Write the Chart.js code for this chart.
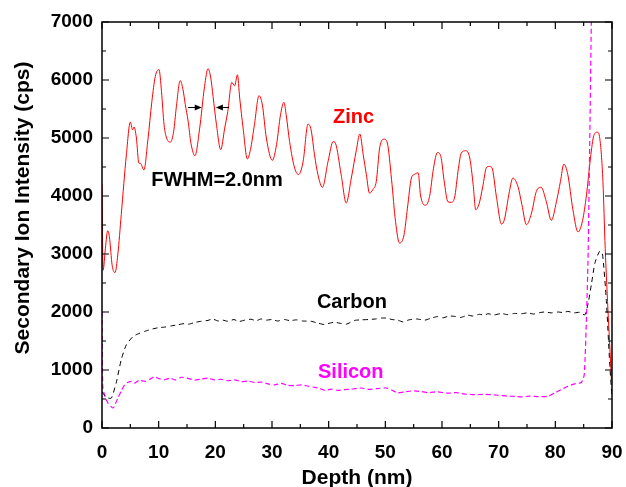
<!DOCTYPE html>
<html>
<head>
<meta charset="utf-8">
<script src="https://cdn.jsdelivr.net/npm/chart.js@4.4.0/dist/chart.umd.min.js"></script>
<style>
  html, body { margin: 0; padding: 0; background: #fff; }
  canvas { display: block; }
</style>
</head>
<body>
<canvas id="sims" width="626" height="487"></canvas>
<script>
// depth profile (depth in nm, intensity in cps)
var zincDepth = [0, 0.2, 0.6, 1.0, 1.3, 1.8, 2.3, 2.8, 3.4, 4.3, 5.0, 5.4, 5.65, 6.07, 6.5, 6.8, 7.4, 8.1, 8.8, 9.4,
  10.06, 10.5, 10.95, 11.4, 12.1, 12.65, 13.1, 13.8, 14.3, 14.7, 15.2, 15.7, 16.4, 17.2, 18.1, 18.7, 19.2, 19.6,
  20.2, 20.95, 21.65, 22.2, 22.9, 23.4, 23.9, 24.3, 24.9, 25.65, 26.2, 26.9, 27.7, 28.3, 29.0, 30.07, 30.8, 31.5,
  32.1, 32.5, 33.1, 34.0, 34.7, 35.5, 36.35, 36.9, 37.5, 38.1, 38.9, 39.9, 40.8, 41.2, 42.2, 43.1, 44.0, 44.9,
  45.5, 46.1, 46.65, 47.2, 47.8, 48.4, 49.0, 49.8, 50.35, 51.1, 51.8, 52.5, 53.3, 53.9, 54.6, 55.1, 55.8, 56.2,
  57.1, 57.8, 58.5, 59.2, 59.8, 60.35, 61.05, 61.6, 62.2, 62.9, 63.4, 64.2, 64.9, 65.5, 65.95, 66.5, 67.2, 67.8,
  68.3, 68.8, 69.6, 70.5, 71.0, 71.9, 72.5, 73.4, 74.1, 74.9, 75.8, 76.65, 77.5, 78.4, 79.3, 80.2, 80.9, 81.5,
  82.2, 83.1, 84.0, 84.8, 85.5, 86.2, 86.8, 87.4, 87.85, 88.4, 88.8, 89.9];
var zincCps = [4200, 2720, 3100, 3400, 3300, 2800, 2680, 3000, 3680, 4710, 5275, 5140, 5190, 5000, 4570, 4560, 4450, 4970, 5630, 6060,
  6180, 5800, 5230, 5000, 4930, 5115, 5520, 5990, 5830, 5575, 5290, 4910, 4695, 5140, 5890, 6195, 6035, 5715,
  5230, 4800, 5170, 5460, 5960, 5900, 6090, 5690, 5170, 4640, 4800, 5230, 5730, 5570, 5000, 4615, 4885, 5400,
  5615, 5400, 4940, 4480, 4370, 4600, 5240, 5140, 4710, 4370, 4150, 4600, 4940, 4910, 4370, 3880, 4310, 4800,
  5070, 4710, 4370, 4050, 4110, 4250, 4830, 4980, 4915, 4280, 3560, 3190, 3330, 3790, 4310, 4370, 4400, 4020,
  3840, 3990, 4480, 4750, 4680, 4280, 3900, 3890, 3965, 4480, 4740, 4780, 4655, 4195, 3765, 3850, 4165, 4480,
  4510, 4490, 3990, 3515, 3590, 4080, 4310, 4165, 3850, 3505, 3705, 4080, 4150, 3905, 3580, 3905, 4250, 4550,
  4370, 3765, 3380, 3575, 4020, 4655, 5045, 5100, 4990, 4250, 3100, 830];

var carbonDepth = [0, 0.5, 1.0, 1.65, 2.5, 3.4, 4.3, 5.5, 6.3, 7.5, 8.3, 9.0, 10, 11.1, 12.2, 13.4, 14.5, 15.3, 16.4,
  17.5, 18.7, 19.5, 20.5, 21.3, 22.2, 23.3, 24.1, 25.2, 26.3, 27.2, 28.1, 29, 30, 31, 32.2, 33.2, 34.3, 35.4,
  36.9, 38, 39.2, 39.9, 41, 42, 43.1, 44.6, 45.8, 47, 48.3, 49.3, 50.2, 51.2, 52.2, 53.1, 54.2, 55.5, 57, 58.1,
  59.2, 60.2, 61.2, 62.2, 63.3, 64.5, 65.5, 66.6, 67.5, 68.1, 69.2, 70.5, 71.5, 72.8, 74.0, 75.1, 76.2, 77.3,
  78.1, 79.3, 80.5, 81.4, 82.2, 83.3, 84.3, 85.2, 85.8, 86.4, 87.0, 87.8, 88.3, 89.0, 89.6, 90];
var carbonCps = [620, 560, 520, 515, 775, 1180, 1435, 1580, 1620, 1665, 1690, 1710, 1730, 1740, 1760, 1780, 1800, 1790, 1820,
  1840, 1855, 1880, 1845, 1860, 1840, 1870, 1835, 1860, 1875, 1850, 1880, 1860, 1870, 1845, 1870, 1850, 1865, 1845,
  1840, 1810, 1785, 1800, 1825, 1805, 1790, 1855, 1865, 1870, 1880, 1895, 1895, 1870, 1860, 1830, 1865, 1880, 1860, 1895,
  1920, 1900, 1930, 1925, 1905, 1945, 1930, 1960, 1945, 1970, 1950, 1975, 1955, 1975, 1970, 1985, 1965, 1990,
  2000, 1985, 2000, 1990, 2010, 1985, 1995, 1950, 2155, 2500, 2850, 3045, 3020, 2200, 1100, 520];

var siliconDepth = [0, 0.15, 0.6, 1.06, 1.94, 2.8, 3.4, 4.0, 4.6, 5.2, 5.8, 6.5, 7.6, 8.4, 9.3, 10.1, 11.1, 12, 12.9, 14.0,
  15, 16.4, 17.5, 18.7, 19.8, 21, 22.2, 23.4, 24.6, 25.8, 26.9, 28.2, 29.3, 30.5, 31.6, 32.8, 34.0, 35.2, 36.4, 37.6,
  38.5, 39.3, 40.5, 41.6, 42.8, 44, 45.8, 47.2, 48.5, 50.2, 51.2, 52.2, 53.5, 54.9, 56.3, 57.6, 59, 61.0, 62.5, 64,
  65.8, 67.5, 69.9, 71.5, 73, 74.0, 75.5, 77, 78.7, 79.9, 81, 82.2, 83.4, 84.6, 85.1, 85.5, 85.8, 86.35, 86.45];
var siliconCps = [2000, 700, 520, 430, 345, 515, 640, 745, 790, 805, 775, 820, 805, 840, 880, 850, 835, 860, 830, 875,
  860, 825, 845, 860, 830, 840, 815, 830, 800, 810, 785, 790, 760, 745, 770, 735, 730, 745, 720, 700,
  680, 650, 670, 650, 660, 670, 690, 665, 680, 690, 650, 605, 625, 640, 630, 610, 625, 600, 610, 585,
  575, 580, 565, 550, 545, 535, 550, 540, 545, 605, 660, 720, 760, 785, 920, 1925, 3070, 7000, 8000];

var xTicks = [0, 10, 20, 30, 40, 50, 60, 70, 80, 90];
var yTicks = [0, 1000, 2000, 3000, 4000, 5000, 6000, 7000];
var xTitle = "Depth (nm)";
var yTitle = "Secondary Ion Intensity (cps)";

// curve labels: [text, depth, cps, colour]
var labels = [
  ["Zinc", 44.4, 5350, "#ff0000"],
  ["Carbon", 44.1, 2160, "#000000"],
  ["Silicon", 43.9, 955, "#ff00ff"],
  ["FWHM=2.0nm", 20.3, 4265, "#000000"]
];
// FWHM arrows: [from depth, to depth (head), cps]
var fwhmArrows = [[15.2, 17.6, 5530], [22.4, 20.1, 5530]];

var FONT = "'Liberation Sans', Arial, sans-serif";

function pairs(xs, ys) {
  return xs.map(function (x, i) { return { x: x, y: ys[i] }; });
}

var frameAndNotes = {
  id: "frameAndNotes",
  afterDatasetsDraw: function (chart) {
    var ctx = chart.ctx;
    var a = chart.chartArea;
    var xs = chart.scales.x;
    var ys = chart.scales.y;
    ctx.save();

    // curve labels
    ctx.font = "bold 20px " + FONT;
    ctx.textAlign = "center";
    ctx.textBaseline = "middle";
    labels.forEach(function (l) {
      ctx.fillStyle = l[3];
      ctx.fillText(l[0], xs.getPixelForValue(l[1]), ys.getPixelForValue(l[2]));
    });

    // axis titles (y title sits a bit above the middle in the original)
    ctx.fillStyle = "#000";
    ctx.font = "bold 21px " + FONT;
    ctx.fillText(xTitle, (a.left + a.right) / 2, 478);
    ctx.save();
    ctx.translate(23, 208);
    ctx.rotate(-Math.PI / 2);
    ctx.fillText(yTitle, 0, 0);
    ctx.restore();

    // arrows
    ctx.strokeStyle = "#000";
    ctx.lineWidth = 1;
    fwhmArrows.forEach(function (ar) {
      var x0 = xs.getPixelForValue(ar[0]);
      var x1 = xs.getPixelForValue(ar[1]);
      var y = Math.round(ys.getPixelForValue(ar[2])) + 0.5;
      var dir = x1 > x0 ? 1 : -1;
      ctx.beginPath();
      ctx.moveTo(x0, y);
      ctx.lineTo(x1 - dir * 5, y);
      ctx.stroke();
      ctx.beginPath();
      ctx.moveTo(x1, y);
      ctx.lineTo(x1 - dir * 7, y - 3);
      ctx.lineTo(x1 - dir * 7, y + 3);
      ctx.closePath();
      ctx.fill();
    });

    // frame
    ctx.lineWidth = 1.5;
    ctx.strokeRect(a.left, a.top, a.right - a.left, a.bottom - a.top);

    // inward ticks on all four sides
    ctx.lineWidth = 1.2;
    ctx.beginPath();
    for (var v = xs.min; v <= xs.max + 0.001; v += 5) {
      var px = xs.getPixelForValue(v);
      var len = (v % 10 === 0) ? 7 : 4;
      ctx.moveTo(px, a.bottom); ctx.lineTo(px, a.bottom - len);
      ctx.moveTo(px, a.top); ctx.lineTo(px, a.top + len);
    }
    for (var w = ys.min; w <= ys.max + 0.001; w += 500) {
      var py = ys.getPixelForValue(w);
      var len2 = (w % 1000 === 0) ? 7 : 4;
      ctx.moveTo(a.left, py); ctx.lineTo(a.left + len2, py);
      ctx.moveTo(a.right, py); ctx.lineTo(a.right - len2, py);
    }
    ctx.stroke();
    ctx.restore();
  }
};

function plainTick(v) { return String(v); }

new Chart(document.getElementById("sims"), {
  type: "line",
  data: {
    datasets: [
      {
        label: "Carbon",
        data: pairs(carbonDepth, carbonCps),
        borderColor: "#000000",
        borderWidth: 1,
        borderDash: [5, 4],
        pointRadius: 0,
        tension: 0.2
      },
      {
        label: "Silicon",
        data: pairs(siliconDepth, siliconCps),
        borderColor: "#ff00ff",
        borderWidth: 1.2,
        borderDash: [5, 3],
        pointRadius: 0,
        tension: 0.2
      },
      {
        label: "Zinc",
        data: pairs(zincDepth, zincCps),
        borderColor: "#ff0000",
        borderWidth: 1,
        pointRadius: 0,
        cubicInterpolationMode: "monotone"
      }
    ]
  },
  options: {
    responsive: false,
    animation: false,
    layout: { padding: { top: 22, right: 14, left: 0, bottom: 0 } },
    plugins: { legend: { display: false }, tooltip: { enabled: false } },
    scales: {
      x: {
        type: "linear",
        min: 0,
        max: 90,
        afterBuildTicks: function (s) { s.ticks = xTicks.map(function (v) { return { value: v }; }); },
        afterFit: function (s) { s.height = 59; s.paddingLeft = 0; s.paddingRight = 0; },
        grid: { display: false, drawTicks: false },
        border: { display: false },
        ticks: { color: "#000", padding: 13, maxRotation: 0, callback: plainTick,
                 font: { family: FONT, size: 19, weight: "bold" } }
      },
      y: {
        type: "linear",
        min: 0,
        max: 7000,
        afterBuildTicks: function (s) { s.ticks = yTicks.map(function (v) { return { value: v }; }); },
        afterFit: function (s) { s.width = 102; s.paddingTop = 0; s.paddingBottom = 0; },
        grid: { display: false, drawTicks: false },
        border: { display: false },
        ticks: { color: "#000", padding: 9, callback: plainTick,
                 font: { family: FONT, size: 19, weight: "bold" } }
      }
    }
  },
  plugins: [frameAndNotes]
});
</script>
</body>
</html>
